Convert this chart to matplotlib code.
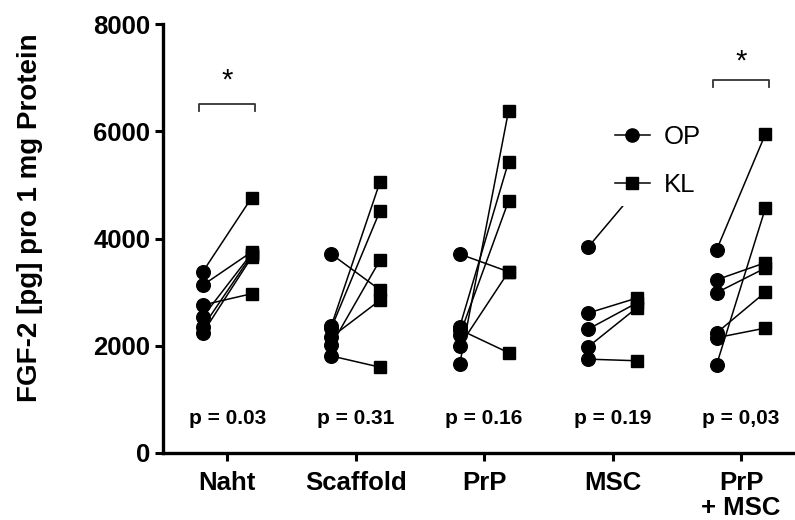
import matplotlib
matplotlib.use("Agg")
import matplotlib.pyplot as plt
from matplotlib.lines import Line2D

plt.rcParams['font.family'] = ['Liberation Sans', 'DejaVu Sans']

categories = ["Naht", "Scaffold", "PrP", "MSC", "PrP\n+ MSC"]
p_labels = ["p = 0.03", "p = 0.31", "p = 0.16", "p = 0.19", "p = 0,03"]

naht_op = [3380, 3130, 2760, 2540, 2350, 2240]
naht_kl = [4760, 3750, 2970, 3720, 3690, 3650]
scaffold_op = [3710, 2370, 2330, 2160, 2010, 1810]
scaffold_kl = [3040, 5060, 4520, 2850, 3600, 1600]
prp_op = [3710, 1660, 2350, 2200, 2000, 2300]
prp_kl = [3380, 6380, 5430, 4700, 3380, 1870]
msc_op = [3840, 2610, 2310, 1980, 1750]
msc_kl = [4920, 2890, 2800, 2710, 1720]
prpmsc_op = [3790, 3230, 2990, 1650, 2240, 2150]
prpmsc_kl = [5950, 3550, 3450, 4570, 3000, 2330]

op_groups = [naht_op, scaffold_op, prp_op, msc_op, prpmsc_op]
kl_groups = [naht_kl, scaffold_kl, prp_kl, msc_kl, prpmsc_kl]

sig_groups = [0, 4]
sig_levels = [6500, 6960]
star_levels = [6950, 7300]

fig = plt.figure(figsize=(7.95, 5.2), dpi=100)
ax = fig.add_axes([163/795, 67/520, 1 - 163/795, (453-24)/520])

off = 0.19
for i, (op, kl) in enumerate(zip(op_groups, kl_groups)):
    x = i + 1
    for a, b in zip(op, kl):
        ax.plot([x - off, x + off], [a, b], color='black', lw=1.1, zorder=2)
    ax.plot([x - off] * len(op), op, 'o', color='black', ms=9.8, zorder=3)
    ax.plot([x + off] * len(kl), kl, 's', color='black', ms=9.3, zorder=3)
    ax.text(x, 650, p_labels[i], ha='center', va='center', fontsize=15,
            fontweight='bold')

for g, lvl, st in zip(sig_groups, sig_levels, star_levels):
    x = g + 1
    ax.plot([x - off - 0.03, x - off - 0.03, x + off + 0.03, x + off + 0.03],
            [lvl - 130, lvl, lvl, lvl - 130], color='#333333', lw=1.3, zorder=2)
    ax.text(x, st, "*", ha='center', va='center', fontsize=21)

ax.set_xlim(0.5, 5.42)
ax.set_ylim(0, 8000)
ax.set_yticks([0, 2000, 4000, 6000, 8000])
ax.set_xticks(range(1, 6))
ax.set_xticklabels(categories, fontsize=18.5, fontweight='bold', linespacing=1.05)
for lab in ax.get_yticklabels():
    lab.set_fontsize(18.5)
    lab.set_fontweight('bold')
ax.tick_params(axis='both', width=2.2, length=6, color='black')
ax.tick_params(axis='x', pad=7)
ax.tick_params(axis='y', pad=3)
for s in ['top', 'right']:
    ax.spines[s].set_visible(False)
for s in ['left', 'bottom']:
    ax.spines[s].set_linewidth(2.4)

ax.set_ylabel("FGF-2 [pg] pro 1 mg Protein", fontsize=20, fontweight='bold')
ax.yaxis.set_label_coords(-0.19, 0.549)

handles = [Line2D([], [], color='black', marker='o', ms=9.5, lw=1.1),
           Line2D([], [], color='black', marker='s', ms=9, lw=1.1)]
leg = ax.legend(handles, ["OP", "KL"], fontsize=18.5, frameon=True,
                framealpha=1, facecolor='white', edgecolor='none',
                handlelength=1.35, handletextpad=0.55, labelspacing=0.93,
                borderpad=0.35, loc='upper left',
                bbox_to_anchor=(593/795, (520-103)/520),
                bbox_transform=fig.transFigure)
leg.set_zorder(10)
leg.get_frame().set_boxstyle('square', pad=0)

fig.savefig("out.png", dpi=100)
